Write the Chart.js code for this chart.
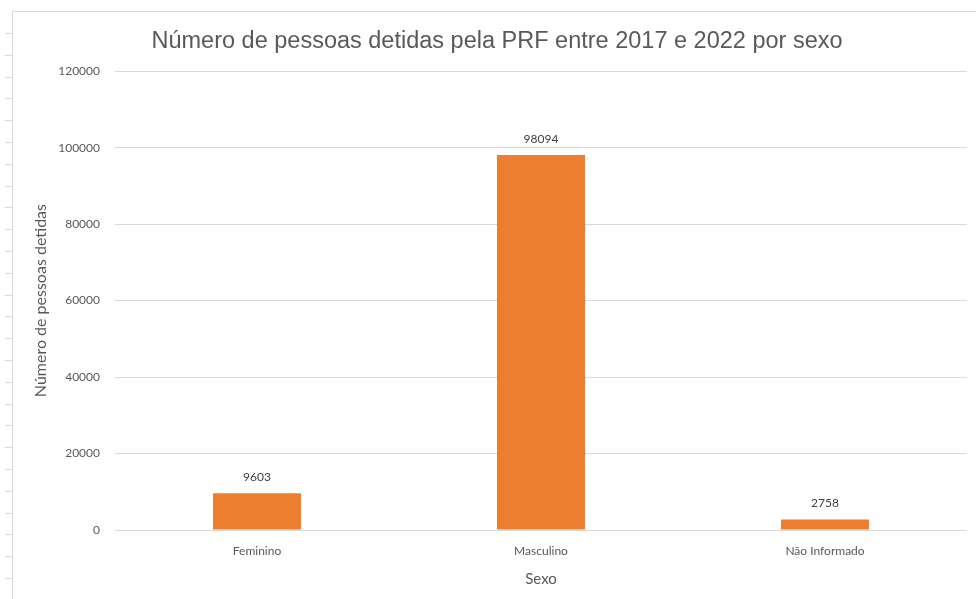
<!DOCTYPE html>
<html><head><meta charset="utf-8">
<script src="https://cdn.jsdelivr.net/npm/chart.js@4/dist/chart.umd.min.js"></script>
<style>html,body{margin:0;padding:0;background:#fff}#wrap{width:976px;height:599px}</style>
</head><body><div id="wrap"><canvas id="c" width="976" height="599"></canvas></div>
<script>
const categories = ["Feminino", "Masculino", "Não Informado"];
const detidos = [9603, 98094, 2758];
const yTicks = [0, 20000, 40000, 60000, 80000, 100000, 120000];

const frame = {
  id: 'frame',
  beforeDraw(chart) {
    const ctx = chart.ctx;
    ctx.save();
    ctx.strokeStyle = '#d9d9d9';
    ctx.lineWidth = 1;
    ctx.beginPath();
    ctx.moveTo(12.5, 11); ctx.lineTo(12.5, 599);
    ctx.moveTo(12, 11.5); ctx.lineTo(976, 11.5);
    for (let y = 33; y < 599; y += 21.8) { ctx.moveTo(5, Math.round(y) + 0.5); ctx.lineTo(12, Math.round(y) + 0.5); }
    ctx.stroke();
    ctx.restore();
  }
};
const labels = {
  id: 'labels',
  afterDatasetsDraw(chart) {
    const ctx = chart.ctx;
    ctx.save();
    ctx.font = '12px Lato, "Open Sans", sans-serif';
    ctx.fillStyle = '#404040';
    ctx.textAlign = 'center';
    ctx.textBaseline = 'bottom';
    chart.getDatasetMeta(0).data.forEach((bar, i) => {
      ctx.fillText(String(chart.data.datasets[0].data[i]), bar.x, bar.y - 10);
    });
    ctx.restore();
  }
};

new Chart(document.getElementById('c'), {
  type: 'bar',
  data: {
    labels: categories,
    datasets: [{ data: detidos, backgroundColor: '#ED7D31', categoryPercentage: 1, barPercentage: 0.31 }]
  },
  options: {
    responsive: false,
    animation: false,
    layout: { padding: { left: 27, right: 9, top: 0, bottom: 7 } },
    plugins: {
      legend: { display: false },
      tooltip: { enabled: false },
      title: {
        display: true,
        text: 'Número de pessoas detidas pela PRF entre 2017 e 2022 por sexo',
        color: '#595959',
        font: { family: '"Liberation Sans", Arial, sans-serif', size: 23.5, weight: 'normal' },
        padding: { top: 27, bottom: 16 }
      }
    },
    scales: {
      x: {
        grid: { display: false },
        border: { display: false },
        ticks: { color: '#595959', font: { family: 'Lato, sans-serif', size: 12 }, padding: 6 },
        title: { display: true, text: 'Sexo', color: '#595959', font: { family: 'Lato, sans-serif', size: 15 }, padding: { top: 2 } },
        afterFit(s) { s.height = 62; }
      },
      y: {
        min: 0, max: 120000,
        afterBuildTicks(s) { s.ticks = yTicks.map(v => ({ value: v })); },
        grid: { color: '#d9d9d9', drawTicks: false },
        border: { display: false },
        ticks: { color: '#595959', font: { family: 'Lato, sans-serif', size: 12 }, padding: 15, callback: v => String(v) },
        title: { display: true, text: 'Número de pessoas detidas', color: '#595959', font: { family: 'Lato, sans-serif', size: 16 }, padding: { bottom: 0 } },
        afterFit(s) { s.width = 88; }
      }
    }
  },
  plugins: [frame, labels]
});
</script></body></html>
